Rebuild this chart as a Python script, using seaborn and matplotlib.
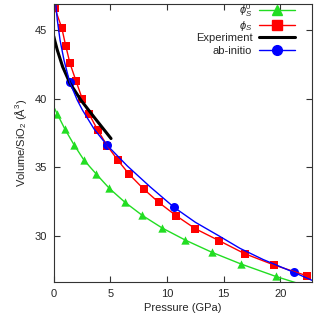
import matplotlib
matplotlib.use("Agg")
import matplotlib.pyplot as plt
import seaborn as sns
from matplotlib.lines import Line2D
from matplotlib.legend import Legend

# phi_S^0 (green), points outside the frame are clipped like gnuplot does
phi0_p = [-0.4, 0.32, 1.0, 1.79, 2.67, 3.76, 4.91, 6.27, 7.82, 9.58, 11.62, 13.97, 16.53, 19.62, 22.9]
phi0_v = [40.1, 38.88, 37.77, 36.65, 35.53, 34.51, 33.47, 32.47, 31.5, 30.58, 29.7, 28.81, 27.96, 27.05, 26.2]

# phi_S (red)
phi_p = [0.11, 0.71, 1.06, 1.44, 1.97, 2.52, 3.14, 3.88, 4.73, 5.65, 6.67, 7.94, 9.27,
         10.82, 12.5, 14.62, 16.86, 19.47, 22.36]
phi_v = [46.58, 45.17, 43.86, 42.57, 41.29, 40.0, 38.86, 37.72, 36.57, 35.53, 34.49, 33.42,
         32.45, 31.47, 30.53, 29.65, 28.71, 27.88, 27.1]

# experiment (black)
exp_p = [0.0, 0.1, 0.32, 0.79, 1.44, 2.4, 3.6, 5.06]
exp_v = [44.56, 44.22, 43.54, 42.33, 41.12, 39.9, 38.62, 37.1]

# ab-initio fit curve and points (blue)
abi_fit_p = [0.18, 0.32, 0.56, 0.91, 1.41, 2.08, 2.52, 3.56, 4.70, 5.26, 6.5, 8.5, 10.62,
             12.5, 14.6, 16.44, 18.5, 21.2, 22.8]
abi_fit_v = [46.94, 45.73, 44.27, 42.81, 41.21, 39.9, 39.2, 37.8, 36.62, 36.15, 35.1, 33.59,
             32.09, 31.0, 30.0, 29.1, 28.28, 27.35, 26.77]
abi_p = [1.41, 4.70, 10.62, 21.2]
abi_v = [41.21, 36.62, 32.09, 27.35]

green = "#22dd22"
red = "#ff0000"
blue = "#0000ff"

sns.set_style("ticks")
plt.rcParams["font.family"] = ["Liberation Sans", "DejaVu Sans"]
plt.rcParams["mathtext.fontset"] = "custom"
plt.rcParams["mathtext.rm"] = "Liberation Sans"
plt.rcParams["mathtext.it"] = "Liberation Sans:italic"
plt.rcParams["font.size"] = 8
text_col = "#262626"

fig = plt.figure(figsize=(3.14, 3.21), dpi=100)
ax = fig.add_axes([0.171, 0.1224, 0.8217, 0.8651])

sns.lineplot(x=phi0_p, y=phi0_v, color=green, linewidth=1.0, sort=False, estimator=None, ax=ax)
sns.scatterplot(x=phi0_p, y=phi0_v, color=green, marker="^", s=36, linewidth=0, ax=ax)

sns.lineplot(x=phi_p, y=phi_v, color=red, linewidth=1.0, sort=False, estimator=None, ax=ax)
sns.scatterplot(x=phi_p, y=phi_v, color=red, marker="s", s=36, linewidth=0, ax=ax)

sns.lineplot(x=exp_p, y=exp_v, color="black", linewidth=2.2, sort=False, estimator=None, ax=ax)

sns.lineplot(x=abi_fit_p, y=abi_fit_v, color=blue, linewidth=1.0, sort=False, estimator=None, ax=ax)
sns.scatterplot(x=abi_p, y=abi_v, color=blue, marker="o", s=42, linewidth=0, ax=ax)

ax.set_xlim(0, 22.77)
ax.set_ylim(26.67, 46.9)
ax.set_xticks([0, 5, 10, 15, 20])
ax.set_yticks([30, 35, 40, 45])
ax.tick_params(direction="in", length=4, width=0.8, top=True, right=True,
               colors="#333333", labelcolor=text_col, labelsize=8, pad=5)
for sp in ax.spines.values():
    sp.set_color("#333333")
    sp.set_linewidth(0.8)

ax.set_xlabel("Pressure (GPa)", color=text_col, fontsize=8, labelpad=3)
ax.set_ylabel("Volume/SiO$_2$ (Å$^3$)", color=text_col, fontsize=8, labelpad=4)

handles = [
    Line2D([], [], color=green, marker="^", markersize=6.5, linewidth=1.0),
    Line2D([], [], color=red, marker="s", markersize=6.5, linewidth=1.0),
    Line2D([], [], color="black", linewidth=2.2),
    Line2D([], [], color=blue, marker="o", markersize=7, linewidth=1.0),
]
labels = [r"$\phi_S^0$", r"$\phi_S$", "Experiment", "ab-initio"]
key_rows = [0.978, 0.9205, 0.8765, 0.8308]

# gnuplot-style key: one row per entry
for h, lab, ky in zip(handles, labels, key_rows):
    leg = Legend(ax, [h], [lab], loc="center right", bbox_to_anchor=(0.955, ky),
                 frameon=False, markerfirst=False, handlelength=3.2, handletextpad=0.6,
                 borderpad=0, fontsize=8)
    for t in leg.get_texts():
        t.set_color(text_col)
    ax.add_artist(leg)

fig.savefig("out.png", dpi=100)
